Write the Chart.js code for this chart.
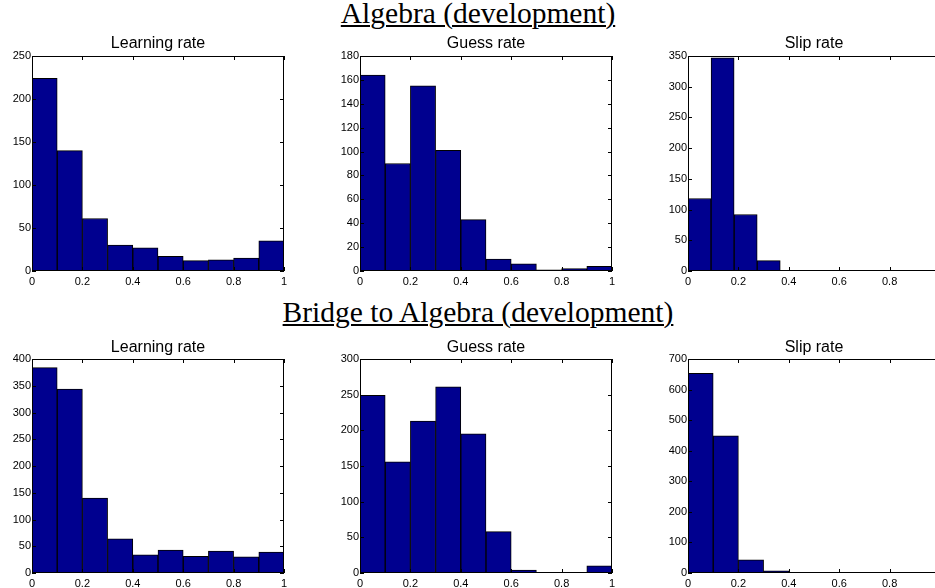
<!DOCTYPE html>
<html>
<head>
<meta charset="utf-8">
<script src="https://cdn.jsdelivr.net/npm/chart.js@4"></script>
<style>
  html, body { margin:0; padding:0; background:#fff; }
  body { width:935px; height:588px; overflow:hidden; position:relative; }
  canvas { position:absolute; }
  .main { position:absolute; font-family:"Liberation Serif","Times New Roman",serif; font-size:29.5px; line-height:29px; text-decoration:underline; text-decoration-thickness:1.5px; text-underline-offset:2px; white-space:nowrap; color:#000; transform:translateX(-50%); }
  .sub { position:absolute; font-family:"Liberation Sans",Arial,sans-serif; font-size:16px; line-height:16px; white-space:nowrap; color:#000; transform:translateX(-50%); }
</style>
</head>
<body>
<script>
// ---- data ----
const bins10 = [0.05, 0.15, 0.25, 0.35, 0.45, 0.55, 0.65, 0.75, 0.85, 0.95];
const binsSlipAlg = [0.0458, 0.1373, 0.2288, 0.3203, 0.4118, 0.5033, 0.5948, 0.6863, 0.7778, 0.8693];
const xTicks = [0, 0.2, 0.4, 0.6, 0.8, 1];

const algLearn = [224, 140, 61, 30, 27, 17, 12, 13, 15, 35];
const algGuess = [164, 90, 155, 101, 43, 10, 6, 1, 2, 4];
const algSlip  = [118, 347, 92, 17, 0, 0, 0, 0, 0, 0];
const btaLearn = [384, 344, 140, 64, 34, 43, 31, 41, 30, 39];
const btaGuess = [249, 156, 213, 261, 195, 58, 4, 0, 0, 10];
const btaSlip  = [653, 449, 43, 7, 2, 0, 0, 0, 0, 2];

const titles = ["Learning rate", "Guess rate", "Slip rate"];
const mainTitles = ["Algebra (development)", "Bridge to Algebra (development)"];

// ---- layout ----
const boxLefts = [32, 360, 688];
const boxW = 252;
const rows = [{top:56, h:215, titleTop:35, mainTop:-1}, {top:359, h:214, titleTop:339, mainTop:298}];
const Y_W = 32, X_H = 18, PAD_T = 8, PAD_R = 10;

const boxPlugin = {
  id: 'matbox',
  afterDatasetsDraw(chart) {
    const {ctx, chartArea:a, scales:{x, y}} = chart;
    ctx.save();
    ctx.strokeStyle = '#000';
    ctx.lineWidth = 1;
    ctx.strokeRect(a.left + 0.5, a.top + 0.5, a.right - a.left - 1, a.bottom - a.top - 1);
    const L = 4;
    ctx.beginPath();
    x.ticks.forEach(t => {
      const px = Math.round(x.getPixelForValue(t.value)) + 0.5;
      ctx.moveTo(px, a.bottom); ctx.lineTo(px, a.bottom - L);
      ctx.moveTo(px, a.top); ctx.lineTo(px, a.top + L);
    });
    y.ticks.forEach(t => {
      const py = Math.round(y.getPixelForValue(t.value)) + 0.5;
      ctx.moveTo(a.left, py); ctx.lineTo(a.left + L, py);
      ctx.moveTo(a.right, py); ctx.lineTo(a.right - L, py);
    });
    ctx.stroke();
    ctx.restore();
  }
};

function makeChart(rowIdx, colIdx, centers, values, yMax, yStep) {
  const r = rows[rowIdx];
  const cv = document.createElement('canvas');
  const w = boxW + Y_W + PAD_R, h = r.h + PAD_T + X_H;
  cv.width = w; cv.height = h;
  cv.style.width = w + 'px'; cv.style.height = h + 'px';
  cv.style.left = (boxLefts[colIdx] - Y_W) + 'px';
  cv.style.top = (r.top - PAD_T) + 'px';
  document.body.appendChild(cv);

  const t = document.createElement('div');
  t.className = 'sub';
  t.textContent = titles[colIdx];
  t.style.left = (boxLefts[colIdx] + boxW / 2) + 'px';
  t.style.top = r.titleTop + 'px';
  document.body.appendChild(t);

  const font = {family: '"Liberation Sans", Arial, sans-serif', size: 11};
  new Chart(cv, {
    type: 'bar',
    data: {
      datasets: [{
        data: centers.map((c, i) => ({x: c, y: values[i]})),
        backgroundColor: '#00008F',
        borderColor: '#000',
        borderWidth: 1,
        barPercentage: 1,
        categoryPercentage: 1
      }]
    },
    options: {
      responsive: false,
      animation: false,
      devicePixelRatio: 1,
      layout: {padding: {top: PAD_T, right: PAD_R, left: 0, bottom: 0}},
      plugins: {legend: {display: false}, tooltip: {enabled: false}, title: {display: false}},
      scales: {
        x: {
          type: 'linear', min: 0, max: 1, offset: false,
          afterBuildTicks: s => { s.ticks = xTicks.map(v => ({value: v})); },
          ticks: {color: '#000', font, padding: 4, maxRotation: 0, autoSkip: false,
                  callback: v => String(Math.round(v * 10) / 10)},
          grid: {display: false, drawTicks: false},
          border: {display: false},
          afterFit: s => { s.height = X_H; }
        },
        y: {
          type: 'linear', min: 0, max: yMax,
          ticks: {stepSize: yStep, color: '#000', font, padding: 1, autoSkip: false},
          grid: {display: false, drawTicks: false},
          border: {display: false},
          afterFit: s => { s.width = Y_W; }
        }
      }
    },
    plugins: [boxPlugin]
  });
}

rows.forEach((r, i) => {
  const d = document.createElement('div');
  d.className = 'main';
  d.textContent = mainTitles[i];
  d.style.left = '478px';
  d.style.top = r.mainTop + 'px';
  document.body.appendChild(d);
});

makeChart(0, 0, bins10, algLearn, 250, 50);
makeChart(0, 1, bins10, algGuess, 180, 20);
makeChart(0, 2, binsSlipAlg, algSlip, 350, 50);
makeChart(1, 0, bins10, btaLearn, 400, 50);
makeChart(1, 1, bins10, btaGuess, 300, 50);
makeChart(1, 2, bins10, btaSlip, 700, 100);
</script>
</body>
</html>
